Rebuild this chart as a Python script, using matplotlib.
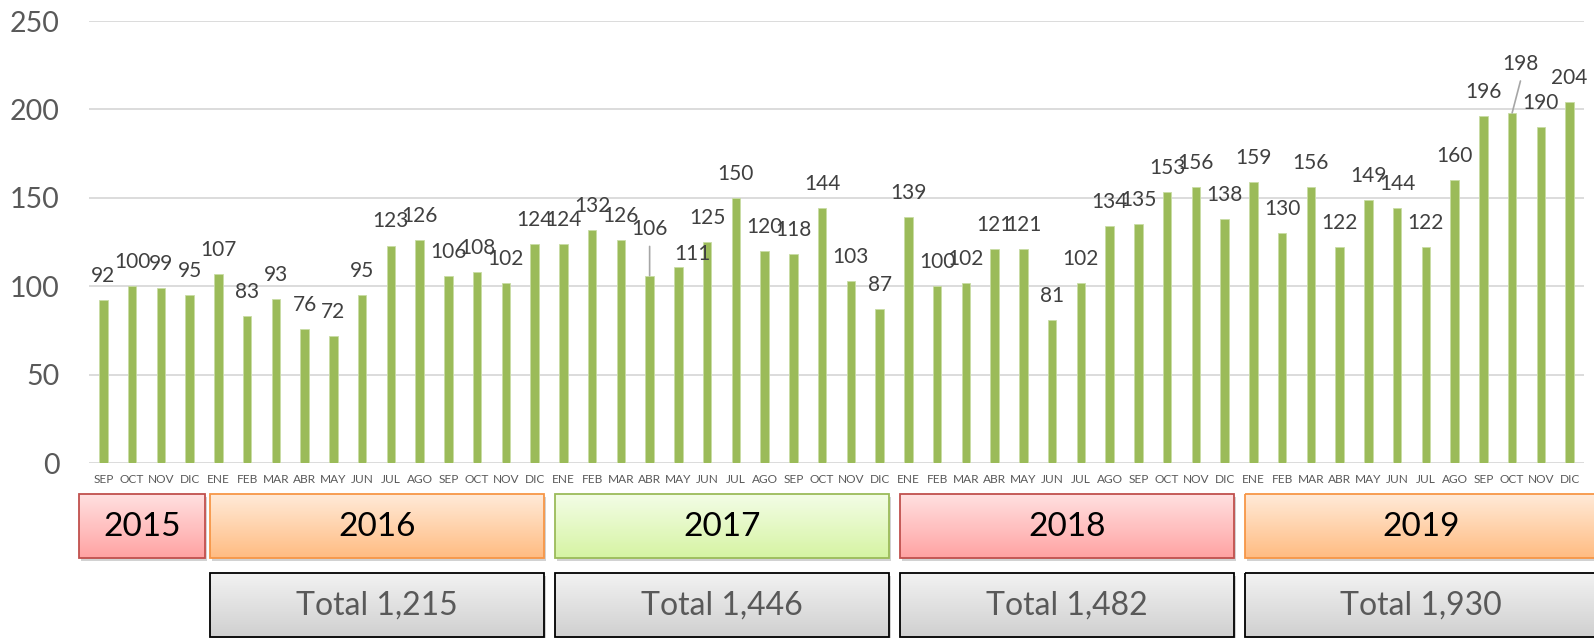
import numpy as np
import matplotlib
matplotlib.use("Agg")
import matplotlib.pyplot as plt
from matplotlib.patches import Rectangle
import matplotlib.patheffects as pe

plt.rcParams['font.family'] = ['Lato', 'DejaVu Sans']

# data
months = ['SEP', 'OCT', 'NOV', 'DIC',
          'ENE', 'FEB', 'MAR', 'ABR', 'MAY', 'JUN', 'JUL', 'AGO', 'SEP', 'OCT', 'NOV', 'DIC',
          'ENE', 'FEB', 'MAR', 'ABR', 'MAY', 'JUN', 'JUL', 'AGO', 'SEP', 'OCT', 'NOV', 'DIC',
          'ENE', 'FEB', 'MAR', 'ABR', 'MAY', 'JUN', 'JUL', 'AGO', 'SEP', 'OCT', 'NOV', 'DIC',
          'ENE', 'FEB', 'MAR', 'ABR', 'MAY', 'JUN', 'JUL', 'AGO', 'SEP', 'OCT', 'NOV', 'DIC']
values = [92, 100, 99, 95,
          107, 83, 93, 76, 72, 95, 123, 126, 106, 108, 102, 124,
          124, 132, 126, 106, 111, 125, 150, 120, 118, 144, 103, 87,
          139, 100, 102, 121, 121, 81, 102, 134, 135, 153, 156, 138,
          159, 130, 156, 122, 149, 144, 122, 160, 196, 198, 190, 204]
years = ['2015', '2016', '2017', '2018', '2019']
year_months = [4, 12, 12, 12, 12]
totals = [None, '1,215', '1,446', '1,482', '1,930']

W, H = 1594, 638
fig = plt.figure(figsize=(W / 100, H / 100), dpi=100)
left, width = 89 / W, 1495 / W
bottom, top = 1 - 463 / H, 1 - 21 / H
ax = fig.add_axes([left, bottom, width, top - bottom])

x = np.arange(len(values))
ax.bar(x, values, width=0.3, color='#9BBB59', edgecolor='#C9DCA5', linewidth=0.6, zorder=3)
ax.set_xlim(-0.5, len(values) - 0.5)
ax.set_ylim(0, 250)
ax.set_yticks(range(0, 251, 50))
ax.yaxis.grid(True, color='#D9D9D9', linewidth=1.3, zorder=0)
ax.set_axisbelow(True)
for s in ax.spines.values():
    s.set_visible(False)
ax.tick_params(axis='y', length=0, pad=21, labelsize=20.5, labelcolor='#595959')
ax.set_xticks(x)
ax.set_xticklabels(months)
ax.tick_params(axis='x', length=0, pad=8, labelsize=8.6, labelcolor='#595959')

# label tweaks (offset points): index -> (dx, dy, leader)
tweaks = {19: (0, 29, True), 20: (10, 5, False), 49: (6, 31, True)}
for i, v in enumerate(values):
    dx, dy, lead = tweaks.get(i, (0, 13, False))
    ax.annotate(str(v), (i, v), xytext=(dx, dy), textcoords='offset points',
                ha='center', va='baseline', fontsize=15, color='#404040', zorder=4)
    if lead:
        ax.annotate('', (i, v), xytext=(dx, dy - 8), textcoords='offset points',
                    arrowprops=dict(arrowstyle='-', color='#A6A6A6', lw=1.2,
                                    shrinkA=0, shrinkB=0), zorder=4)

# overlay axes for the year / total boxes, same x scale as the chart
bx = fig.add_axes([0, 0, 1, 1])
bx.set_axis_off()
xlo = -0.5 - left * len(values) / width
xhi = xlo + len(values) / width
styles = {
    'red': ('#FFE0E0', '#FFA3A3', '#C0504D'),
    'orange': ('#FFEAD8', '#FFBC82', '#F79646'),
    'green': ('#F3FDE6', '#D6F4A3', '#9BBB59'),
    'gray': ('#F2F2F2', '#D0D0D0', '#000000'),
}
year_style = ['red', 'orange', 'green', 'red', 'orange']


def grad_box(x0, x1, y0, y1, style):
    c_top, c_bot, edge = styles[style]
    a = np.array(matplotlib.colors.to_rgb(c_top))
    b = np.array(matplotlib.colors.to_rgb(c_bot))
    t = np.linspace(0, 1, 64)[:, None]
    img = (a * (1 - t) + b * t)[:, None, :]
    rect = Rectangle((x0, y0), x1 - x0, y1 - y0, facecolor='none', edgecolor=edge,
                     linewidth=1.3, zorder=3)
    shadow = Rectangle((x0, y0), x1 - x0, y1 - y0, facecolor='white', edgecolor='none', zorder=1)
    shadow.set_path_effects([pe.SimplePatchShadow(offset=(1.5, -2.5), shadow_rgbFace='#808080', alpha=0.35)])
    bx.add_patch(shadow)
    bx.add_patch(rect)
    im = bx.imshow(img, extent=(x0, x1, y1, y0), aspect='auto', interpolation='bilinear', zorder=2)
    im.set_clip_path(rect)


start = 0
for k, (yr, n) in enumerate(zip(years, year_months)):
    first, last = start, start + n - 1
    x0, x1 = first - 0.28, last + 0.33
    if k == 0:
        x0, x1 = first - 0.86, last + 0.54
    if k == len(years) - 1:
        x1 = last + 0.95
    grad_box(x0, x1, 494, 558, year_style[k])
    bx.text((x0 + x1) / 2, 527, yr, ha='center', va='center', fontsize=24, color='black', zorder=4)
    if totals[k]:
        grad_box(x0, x1, 573, 637, 'gray')
        bx.text((x0 + x1) / 2, 606, 'Total ' + totals[k], ha='center', va='center',
                fontsize=23, color='#595959', zorder=4)
    start += n

bx.set_xlim(xlo, xhi)
bx.set_ylim(H, 0)

plt.savefig('out.png', dpi=100)
